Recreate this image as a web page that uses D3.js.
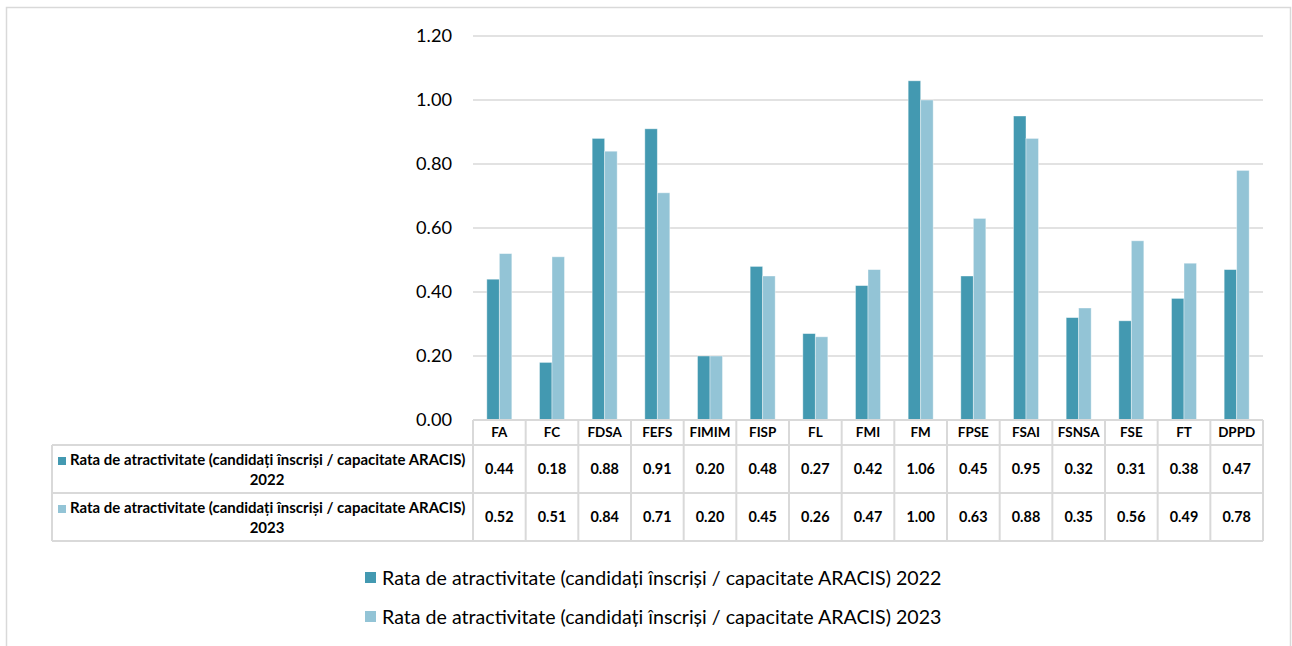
<!DOCTYPE html>
<html><head><meta charset="utf-8">
<script src="https://cdn.jsdelivr.net/npm/d3@7"></script>
<style>body{margin:0;background:#fff}svg{display:block}text{font-family:Lato,"Open Sans",sans-serif;fill:#000}</style>
</head><body><svg id="c" width="1292" height="646"></svg>
<script>
const categories = ["FA","FC","FDSA","FEFS","FIMIM","FISP","FL","FMI","FM","FPSE","FSAI","FSNSA","FSE","FT","DPPD"];
const values2022 = [0.44,0.18,0.88,0.91,0.20,0.48,0.27,0.42,1.06,0.45,0.95,0.32,0.31,0.38,0.47];
const values2023 = [0.52,0.51,0.84,0.71,0.20,0.45,0.26,0.47,1.00,0.63,0.88,0.35,0.56,0.49,0.78];
const seriesNames = ["Rata de atractivitate (candidați înscriși / capacitate ARACIS) 2022","Rata de atractivitate (candidați înscriși / capacitate ARACIS) 2023"];
const seriesLine1 = "Rata de atractivitate (candidați înscriși / capacitate ARACIS)";
const seriesYears = ["2022","2023"];
const yTicks = [0,0.2,0.4,0.6,0.8,1.0,1.2];

const colors = ["#4399b1","#93c4d6"];
const grid = "#d9d9d9";
const svg = d3.select("#c");

// scale font-size of a selection so that its first node has the target width
function fit(sel, target){
  const n = sel.node(); const w = n.getComputedTextLength();
  const fs = parseFloat(getComputedStyle(n).fontSize);
  sel.style("font-size", (fs*target/w).toFixed(2)+"px");
}

svg.append("rect").attr("x",6.5).attr("y",7.5).attr("width",1284).attr("height",660)
  .attr("fill","none").attr("stroke",grid).attr("stroke-width",1.5);

const x0=473, x1=1263;
const y = d3.scaleLinear().domain([0,1.2]).range([420,36]);
const x = d3.scaleBand().domain(categories).range([x0,x1]).paddingInner(0.525).paddingOuter(0.2625);
const xs = d3.scaleBand().domain([0,1]).range([0,x.bandwidth()]);

// gridlines
svg.append("g").selectAll("line").data(yTicks).join("line")
  .attr("x1",x0).attr("x2",x1).attr("y1",d=>y(d)).attr("y2",d=>y(d))
  .attr("stroke",grid).attr("stroke-width",1.5);

// y axis
const yAxis = d3.axisLeft(y).tickValues(yTicks).tickFormat(d3.format(".2f")).tickSize(0).tickPadding(21);
const ga = svg.append("g").attr("transform",`translate(${x0},0)`).call(yAxis);
ga.select(".domain").remove();
const yt = ga.selectAll("text").style("font-size","18px").style("font-family","Lato");
fit(yt, 36);

// bars
const series = [values2022, values2023];
series.forEach((vals,si)=>{
  svg.append("g").selectAll("rect").data(vals).join("rect")
    .attr("x",(d,i)=>x(categories[i])+xs(si))
    .attr("y",d=>y(d)).attr("width",xs.bandwidth()).attr("height",d=>y(0)-y(d))
    .attr("fill",colors[si]).attr("stroke","rgba(255,255,255,0.5)").attr("stroke-width",0.8);
});

// table
const step = x.step();
const tLeft=52, rH=[420,445,493,541];
const tg = svg.append("g");
const L = (a,b,c,d)=>tg.append("line").attr("x1",a).attr("y1",b).attr("x2",c).attr("y2",d).attr("stroke",grid).attr("stroke-width",2);
L(x0,rH[0],x1,rH[0]);
L(tLeft,rH[1],x1,rH[1]);
L(tLeft,rH[2],x1,rH[2]);
L(tLeft,rH[3],x1,rH[3]);
L(tLeft,rH[1],tLeft,rH[3]);
for(let i=0;i<=categories.length;i++){ const xx = x0+i*step; L(xx,rH[0],xx,rH[3]); }

const ht = tg.selectAll("text.h").data(categories).join("text").attr("class","h")
  .attr("x",d=>x(d)+x.bandwidth()/2).attr("y",(rH[0]+rH[1])/2).attr("dy","0.35em")
  .attr("text-anchor","middle").style("font-size","13.5px").style("font-weight","bold").text(d=>d);
fit(ht.filter(d=>d==="FPSE"), 31);
ht.style("font-size", ht.filter(d=>d==="FPSE").style("font-size"));

series.forEach((vals,si)=>{
  const cy=(rH[si+1]+rH[si+2])/2;
  const vt = tg.append("g").selectAll("text").data(vals).join("text")
    .attr("x",(d,i)=>x(categories[i])+x.bandwidth()/2).attr("y",cy).attr("dy","0.35em")
    .attr("text-anchor","middle").style("font-size","14px").style("font-weight","bold").text(d=>d3.format(".2f")(d));
  fit(vt, 28.5);
  const top=rH[si+1];
  tg.append("rect").attr("x",58).attr("y",top+12).attr("width",8).attr("height",8).attr("fill",colors[si]);
  const l1 = tg.append("text").attr("x",70).attr("y",top+20).style("font-size","13.2px").style("font-weight","bold").text(seriesLine1);
  fit(l1, 395);
  tg.append("text").attr("x",267).attr("y",top+40).attr("text-anchor","middle").style("font-size",l1.style("font-size")).style("font-weight","bold").text(seriesYears[si]);
});

// legend
const lg = svg.append("g");
seriesNames.forEach((n,i)=>{
  const cy = 578+i*39;
  lg.append("rect").attr("x",365).attr("y",cy-6).attr("width",11).attr("height",11).attr("fill",colors[i]);
  const t = lg.append("text").attr("x",382).attr("y",cy).attr("dy","0.35em").style("font-size","16.5px").text(n);
  fit(t, 560);
});
</script></body></html>
